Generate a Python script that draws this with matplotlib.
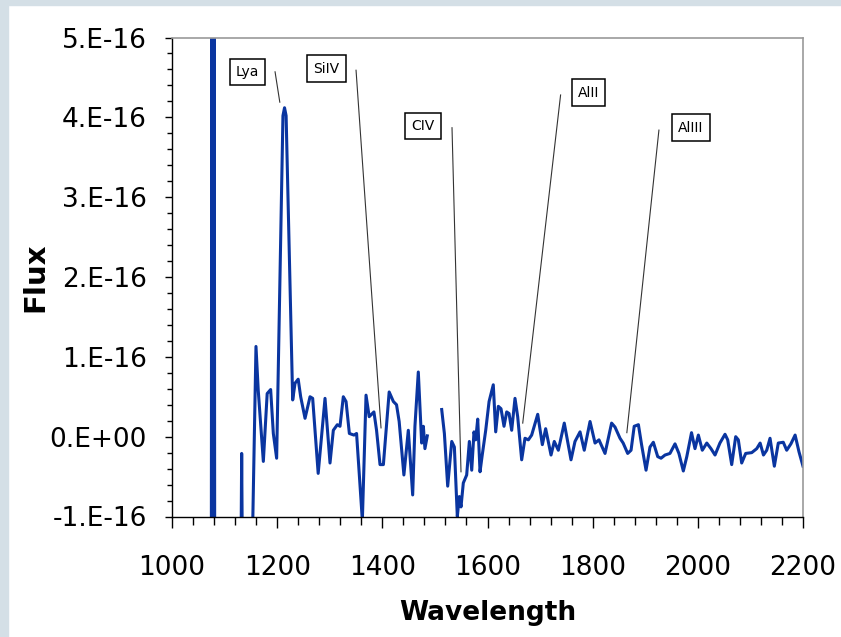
import matplotlib

matplotlib.use('agg')
import matplotlib.pyplot as plt
import numpy as np
from matplotlib.patches import Rectangle
from matplotlib.ticker import FuncFormatter, MultipleLocator

# spectrum, flux in units of 1e-16 (nan = gap in the data)
wavelength = [
    1074, 1076, 1078, 1080, 1082,
    1131.5, 1132.5, 1133.5, 1153.5, 1159.7, 1164, 1173.7, 1181, 1187.6, 1192.7, 1199,
    1211, 1214, 1217, 1229.5, 1234, 1240, 1244.7, 1253, 1262.5, 1267.5, 1278, 1291,
    1300.5, 1306.8, 1314.4, 1319.5, 1325.8, 1331, 1337.3, 1346, 1351, 1362, 1369, 1375,
    1384, 1389, 1395.6, 1402, 1413, 1421, 1427, 1432, 1441, 1449.4, 1457.7, 1462, 1468.4,
    1474.8, 1478, 1481, 1485.5,
    1498,
    1512.9, 1518, 1524.3, 1532, 1537, 1542.6, 1546.4, 1549.6, 1554, 1560.4, 1565.5, 1570,
    1574.3, 1577.5, 1581.4, 1585.8, 1590, 1596.6, 1603, 1611, 1615.6, 1620.6, 1625.7,
    1631.4, 1636.5, 1641, 1646, 1652.3, 1657.4, 1665, 1671.3, 1677.7, 1684, 1695.5, 1704.3,
    1710.6, 1720.8, 1727, 1734.7, 1746, 1758.8, 1766.4, 1776, 1784, 1795, 1804.5, 1812,
    1823.5, 1836, 1842.5, 1852, 1858, 1866.6, 1873, 1879, 1887, 1893, 1901.5, 1909, 1915.4,
    1923.7, 1930, 1937.6, 1947, 1956.6, 1964, 1972.4, 1979, 1988, 1994.6, 2001, 2008.5,
    2017, 2025, 2032.7, 2042, 2051.7, 2056.8, 2064.4, 2072, 2077, 2083.4, 2091, 2102.5,
    2112, 2118.5, 2124.8, 2131, 2137.3, 2145.5, 2153, 2162.5, 2169, 2177, 2185, 2192.4, 2200,
]
flux = [
    -9, 9, -9, 9, -9,
    -1.2, -0.21, -1.2, -1.1, 1.13, 0.58, -0.31, 0.54, 0.59, 0.04, -0.27,
    4.02, 4.12, 4.02, 0.46, 0.67, 0.72, 0.5, 0.23, 0.5, 0.48, -0.46, 0.48,
    -0.33, 0.08, 0.15, 0.13, 0.5, 0.44, 0.04, 0.02, 0.04, -1.05, 0.52, 0.25,
    0.31, 0.08, -0.35, -0.35, 0.56, 0.44, 0.4, 0.19, -0.48, 0.08, -0.73, 0.13, 0.81,
    -0.08, 0.13, -0.15, 0.01,
    np.nan,
    0.34, 0.04, -0.62, -0.06, -0.13, -1.0, -0.75, -0.88, -0.58, -0.48, -0.06, -0.42,
    0.06, -0.04, 0.22, -0.44, -0.23, 0.08, 0.44, 0.65, 0.06, 0.38, 0.35,
    0.13, 0.31, 0.29, 0.08, 0.48, 0.25, -0.29, -0.02, -0.04, 0.02, 0.28, -0.1,
    0.1, -0.23, -0.06, -0.17, 0.17, -0.29, -0.06, 0.06, -0.17, 0.19, -0.08, -0.04,
    -0.21, 0.17, 0.12, -0.02, -0.08, -0.21, -0.17, 0.13, 0.15, -0.1, -0.42, -0.13, -0.07,
    -0.25, -0.27, -0.23, -0.21, -0.09, -0.21, -0.43, -0.25, 0.05, -0.15, 0.02, -0.17,
    -0.08, -0.15, -0.23, -0.08, 0.03, -0.04, -0.35, 0.0, -0.04, -0.33, -0.21, -0.2,
    -0.15, -0.08, -0.23, -0.17, -0.02, -0.37, -0.08, -0.07, -0.17, -0.09, 0.02, -0.19, -0.37,
]

line_labels = ['Lya', 'SiIV', 'CIV', 'AlII', 'AlIII']
label_wl = [1143.6, 1293.8, 1478, 1792, 1987]
label_flux = [4.57, 4.61, 3.89, 4.31, 3.87]
leader_start_wl = [1196, 1350, 1532.5, 1739, 1926]
leader_start_flux = [4.57, 4.59, 3.87, 4.28, 3.84]
leader_end_wl = [1205, 1397.5, 1549.6, 1667, 1865]
leader_end_flux = [4.19, 0.11, -0.44, 0.17, 0.05]

scale = 1e-16

fig = plt.figure(figsize=(8.41, 6.37), dpi=100)
# light frame strips on the left and top edges
fig.patches.append(Rectangle((0, 0), 8 / 841, 1, transform=fig.transFigure, color='#d4dfe6', zorder=0))
fig.patches.append(Rectangle((0, 1 - 5 / 637), 1, 5 / 637, transform=fig.transFigure, color='#d4dfe6', zorder=0))

ax = fig.add_axes([172 / 841, 1 - 516.5 / 637, 631 / 841, 479 / 637])
ax.plot(wavelength, np.array(flux) * scale, color='#0a35a0', lw=2.2, solid_joinstyle='round')

for lab, lx, ly, sx, sy, ex, ey in zip(line_labels, label_wl, label_flux, leader_start_wl,
                                       leader_start_flux, leader_end_wl, leader_end_flux):
    ax.plot([sx, ex], [sy * scale, ey * scale], color='#333333', lw=0.8)
    ax.text(lx, ly * scale, lab, ha='center', va='center', fontsize=10, family='DejaVu Sans',
            bbox=dict(boxstyle='square,pad=0.45', fc='white', ec='black', lw=1.1))

ax.set_xlim(1000, 2200)
ax.set_ylim(-1 * scale, 5 * scale)
ax.xaxis.set_major_locator(MultipleLocator(200))
ax.xaxis.set_minor_locator(MultipleLocator(40))
ax.yaxis.set_major_locator(MultipleLocator(1 * scale))
ax.yaxis.set_minor_locator(MultipleLocator(0.2 * scale))


def flux_fmt(v, pos):
    n = int(round(v / scale))
    if n == 0:
        return '0.E+00'
    return '%d.E-16' % n


ax.yaxis.set_major_formatter(FuncFormatter(flux_fmt))

ax.tick_params(axis='y', which='major', length=5, width=1, pad=13, labelsize=19)
ax.tick_params(axis='y', which='minor', length=3.6, width=1)
ax.tick_params(axis='x', which='major', length=8, width=1, pad=20, labelsize=19)
ax.tick_params(axis='x', which='minor', length=5.8, width=1)

for side in ['top', 'right']:
    ax.spines[side].set_color('#9a9a9a')
    ax.spines[side].set_linewidth(1.2)
for side in ['left', 'bottom']:
    ax.spines[side].set_color('black')
    ax.spines[side].set_linewidth(1)

ax.set_xlabel('Wavelength', fontsize=19, fontweight='bold')
ax.set_ylabel('Flux', fontsize=21, fontweight='bold')
ax.xaxis.label.set_va('center')
ax.xaxis.set_label_coords(0.5, (516.5 - 613) / 479)
ax.yaxis.label.set_va('center')
ax.yaxis.set_label_coords((35 - 172) / 631, 0.5)

fig.savefig('out.png', dpi=100)
